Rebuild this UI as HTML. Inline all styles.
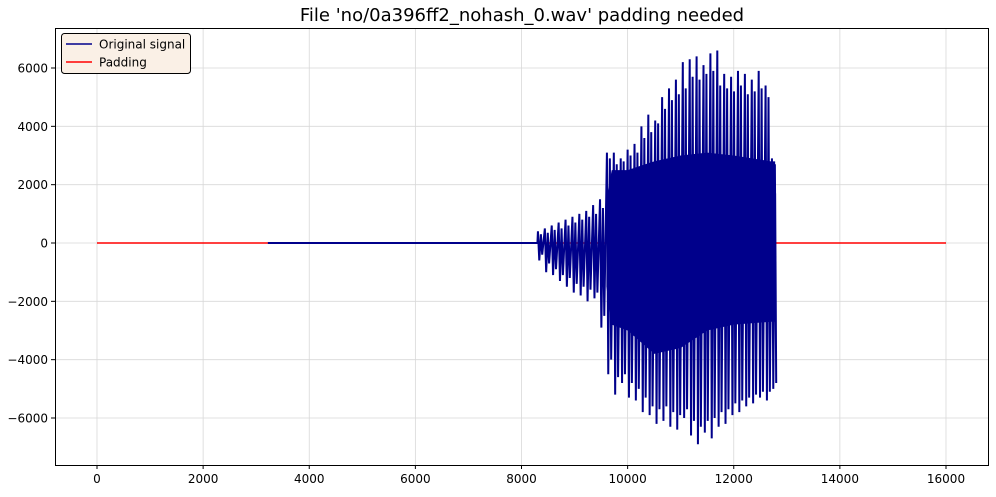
<!DOCTYPE html>
<html><head><meta charset="utf-8"><style>
body{margin:0;background:#fff;font-family:"Liberation Sans","DejaVu Sans",sans-serif}
svg text{font-family:"DejaVu Sans","Liberation Sans",sans-serif}
</style></head><body>
<svg id="c" width="996" height="492" viewBox="0 0 996 492" xmlns="http://www.w3.org/2000/svg">
<rect width="996" height="492" fill="#fff"/>
<text x="522" y="21" text-anchor="middle" font-size="18">File 'no/0a396ff2_nohash_0.wav' padding needed</text>
<g id="grid"></g><g id="ticks"></g><g id="series"></g>
<rect x="55.5" y="28.5" width="933" height="437" fill="none" stroke="#000" stroke-width="1"/>
<g>
<rect x="61.5" y="33.5" width="129" height="40" rx="3" fill="#faf0e6" stroke="#000" stroke-width="1"/>
<line x1="66" y1="44" x2="92" y2="44" stroke="#00008b" stroke-width="1.5"/>
<text x="99" y="48.5" font-size="12">Original signal</text>
<line x1="66" y1="62" x2="92" y2="62" stroke="#ff0000" stroke-width="1.5"/>
<text x="99" y="66.5" font-size="12">Padding</text>
</g>
</svg>
<script>
const xTicks=[0,2000,4000,6000,8000,10000,12000,14000,16000];
const yTicks=[-6000,-4000,-2000,0,2000,4000,6000];
const paddingRange=[0,16000];
const signalStart=3220, signalEnd=12780, rippleStart=8300;
const cycleX=[8350,8480,8610,8740,8870,9000,9130,9260,9390,9520,9650,9780,9910,10040,10170,10300,10430,10560,10690,10820,10950,11080,11210,11340,11470,11600,11730,11860,11990,12120,12250,12380,12510,12640,12760];
const peaks=[400,500,600,700,800,900,1000,1100,1300,1500,3100,3100,2900,3200,3400,4000,4400,4200,5000,5300,5600,6200,6300,6400,6100,6500,6600,5800,5700,5900,5800,5600,5900,5400,2900];
const troughs=[-600,-1000,-1100,-1300,-1500,-1700,-1800,-2000,-1900,-2900,-4500,-5200,-4800,-5300,-5400,-5800,-5900,-6200,-6100,-6300,-6400,-6000,-6600,-6900,-6500,-6700,-6300,-6200,-5900,-5800,-5600,-5500,-5300,-5400,-5000];
const peaks2=[300,350,450,500,600,700,800,900,1000,1200,2900,2700,2800,3000,3100,3600,3800,4100,4600,4900,5100,5300,5700,5600,5800,5900,5400,5300,5200,5400,5100,5200,5300,5000,2700];
const troughs2=[-400,-700,-900,-1100,-1200,-1400,-1500,-1600,-1700,-2500,-4000,-4600,-4500,-4800,-5000,-5300,-5600,-5700,-5600,-5800,-5900,-5700,-6100,-6300,-6100,-6000,-5800,-5700,-5500,-5400,-5300,-5200,-5100,-5100,-4800];
const coreX=[9600,9700,10000,10500,11000,11500,12000,12700,12780];
const coreUpper=[1500,2500,2500,2800,3000,3100,3000,2800,2800];
const coreLower=[-1500,-2800,-3000,-3800,-3600,-3000,-2800,-2700,-2700];
const X=v=>97+(v-0)*(946-97)/16000;
const Y=v=>243-v*175/6000;
const NS="http://www.w3.org/2000/svg";
function mk(t,a,p){const e=document.createElementNS(NS,t);for(const k in a)e.setAttribute(k,a[k]);p.appendChild(e);return e;}
const grid=document.getElementById('grid'),ticks=document.getElementById('ticks'),ser=document.getElementById('series');
xTicks.forEach(v=>{const x=X(v);
const g=mk('line',{x1:x,x2:x,y1:28,y2:465,stroke:'#d8d8d8','stroke-width':0.8},grid);


mk('line',{x1:x,x2:x,y1:465,y2:469,stroke:'#000'},ticks);
const t=mk('text',{x:x,y:483,'text-anchor':'middle','font-size':12},ticks);t.textContent=v;

});
yTicks.forEach(v=>{const y=Y(v);
const g=mk('line',{x1:55,x2:989,y1:y,y2:y,stroke:'#d8d8d8','stroke-width':0.8},grid);


mk('line',{x1:51,x2:55,y1:y,y2:y,stroke:'#000'},ticks);
const t=mk('text',{x:48,y:y+4.5,'text-anchor':'end','font-size':12},ticks);t.textContent=(v<0?'\u2212'+(-v):v);

});
const pad=mk('line',{x1:X(paddingRange[0]),x2:X(paddingRange[1]),y1:Y(0),y2:Y(0),stroke:'#ff0000','stroke-width':1.5},ser);


let pts=[[signalStart,0],[rippleStart,0]];
cycleX.forEach((x,i)=>{pts.push([x-40,peaks[i]]);pts.push([x-15,troughs[i]]);pts.push([x+15,peaks2[i]]);pts.push([x+40,troughs2[i]]);});
pts.push([signalEnd,1700]);
const sig=mk('polyline',{points:pts.map(p=>X(p[0])+','+Y(p[1])).join(' '),fill:'none',stroke:'#00008b','stroke-width':2,'stroke-linejoin':'bevel'},ser);


const cp=coreX.map((x,i)=>X(x)+','+Y(coreUpper[i])).concat(coreX.slice().reverse().map((x,i)=>X(x)+','+Y(coreLower[coreX.length-1-i])));
const core=mk('polygon',{points:cp.join(' '),fill:'#00008b'},ser);


</script>
</body></html>
